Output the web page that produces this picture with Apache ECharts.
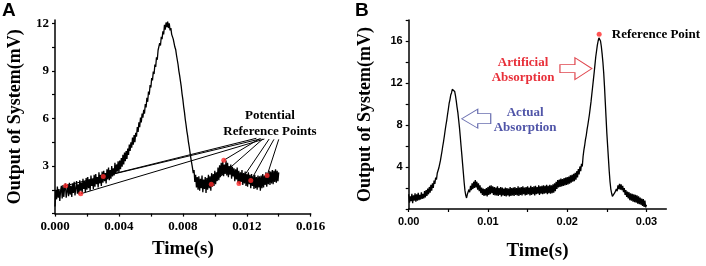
<!DOCTYPE html>
<html>
<head>
<meta charset="utf-8">
<script src="https://cdn.jsdelivr.net/npm/echarts@6/dist/echarts.min.js"></script>
<style>
  html, body { margin: 0; padding: 0; background: #fff; }
  #chart { width: 706px; height: 266px; }
</style>
</head>
<body>
<div id="chart"></div>
<script>
// panel A, one reading every 0.05 ms
var stepA = 0.00005;
var signalA = [
  0.45, 1.5, 0.9, 1.7, 1.0, 1.55, 0.8, 1.45, 1.75, 0.95,
  1.8, 1.05, 1.6, 1.9, 1.0, 1.35, 1.85, 1.1, 1.95, 1.2,
  1.75, 1.05, 1.9, 1.3, 2.0, 1.15, 1.6, 2.05, 1.25, 1.85,
  1.2, 2.1, 1.45, 1.95, 1.3, 2.2, 1.55, 2.05, 1.35, 2.25,
  1.5, 2.3, 1.6, 2.15, 1.45, 2.4, 1.75, 2.2, 1.55, 2.45,
  1.7, 2.5, 1.85, 2.3, 1.65, 2.6, 1.9, 2.45, 1.75, 2.65,
  1.95, 2.7, 2.05, 2.55, 1.9, 2.8, 2.15, 2.9, 2.1, 2.75,
  2.2, 3.0, 2.35, 2.85, 2.4, 3.2, 2.5, 3.1, 2.65, 3.3,
  2.6, 3.35, 2.8, 3.5, 2.95, 3.7, 3.1, 3.85, 3.3, 3.95,
  3.45, 4.1, 3.7, 4.35, 3.95, 4.5, 4.15, 4.8, 4.35, 4.95,
  4.5, 5.1, 4.85, 5.45, 5.15, 5.75, 5.45, 6.05, 5.75, 6.3,
  6.05, 6.55, 6.3, 6.9, 6.7, 7.3, 7.05, 7.7, 7.5, 8.1,
  7.95, 8.55, 8.4, 8.95, 8.8, 9.4, 9.25, 9.85, 9.7, 10.3,
  10.2, 10.75, 10.6, 11.15, 11.0, 11.5, 11.3, 11.9, 11.6, 12.05,
  11.75, 12.1, 11.7, 12.0, 11.55, 11.7, 11.3, 11.4, 11.0, 11.1,
  10.5, 10.35, 10.0, 9.7, 9.4, 9.0, 8.7, 8.35, 8.0, 7.55,
  7.2, 6.75, 6.4, 5.95, 5.6, 5.2, 4.9, 4.5, 4.2, 3.85,
  3.5, 3.2, 2.9, 2.55, 2.75, 2.0, 2.45, 1.65, 2.3, 1.5,
  2.35, 1.45, 2.2, 1.6, 2.4, 1.35, 2.15, 1.55, 2.3, 1.3,
  2.25, 1.5, 2.45, 1.6, 2.35, 1.45, 2.55, 1.7, 2.5, 1.75,
  2.7, 1.85, 2.6, 2.05, 2.9, 2.1, 3.05, 2.3, 3.2, 2.4,
  3.3, 2.35, 3.1, 2.5, 3.35, 2.4, 3.2, 2.3, 3.0, 2.45,
  3.1, 2.2, 2.95, 2.35, 2.85, 2.05, 2.8, 2.15, 2.9, 1.95,
  2.7, 1.85, 2.6, 2.0, 2.75, 1.8, 2.55, 1.9, 2.65, 1.75,
  2.5, 1.7, 2.6, 1.85, 2.45, 1.6, 2.5, 1.75, 2.35, 1.55,
  2.45, 1.6, 2.3, 1.5, 2.4, 1.65, 2.35, 1.45, 2.4, 1.6,
  2.5, 1.65, 2.4, 1.8, 2.6, 1.7, 2.55, 1.85, 2.7, 1.8,
  2.65, 1.9, 2.75, 1.85, 2.7, 2.0, 2.8, 1.95, 2.7, 2.05,
  2.6
];
var refTimeA = [0.00067, 0.00161, 0.00302, 0.00978, 0.01056, 0.01151, 0.01225, 0.01327];
var refValueA = [1.76, 1.25, 2.34, 1.85, 3.36, 1.89, 2.08, 2.40];
// where each leader line leaves the "Reference Points" label
var leaderTimeA = [0.0126, 0.0131, 0.0129, 0.0130, 0.0128, 0.0134, 0.0137, 0.0140];
var leaderValueA = [4.75, 4.70, 4.72, 4.70, 4.72, 4.70, 4.68, 4.68];

// panel B, one reading every 0.1 ms
var stepB = 0.0001;
var signalB = [
  1.4, 0.6, 1.2, 0.75, 1.45, 0.55, 1.3, 0.8, 1.5, 0.7,
  1.4, 0.8, 1.55, 0.85, 1.35, 0.9, 1.6, 0.95, 1.45, 1.0,
  1.7, 1.1, 1.8, 1.25, 1.95, 1.4, 2.1, 1.55, 2.3, 1.75,
  2.45, 2.0, 2.7, 2.4, 3.0, 2.8, 3.4, 3.3, 3.9, 3.85,
  4.6, 5.05, 5.5, 6.0, 6.45, 6.95, 7.5, 8.0, 8.45, 9.0,
  9.5, 10.05, 10.4, 10.85, 11.05, 11.4, 11.5, 11.3, 11.2, 10.8,
  10.3, 9.7, 9.2, 8.5, 7.8, 6.95, 6.05, 5.2, 4.3, 3.4,
  2.5, 1.75, 1.3, 1.05, 1.4, 1.3, 1.85, 1.6, 2.2, 1.8,
  2.45, 1.9, 2.6, 2.0, 2.75, 2.05, 2.6, 1.85, 2.45, 1.7,
  2.25, 1.5, 2.05, 1.35, 1.95, 1.25, 1.9, 1.3, 2.0, 1.2,
  2.1, 1.35, 2.2, 1.4, 2.25, 1.5, 2.15, 1.35, 2.1, 1.3,
  2.05, 1.3, 2.15, 1.25, 2.0, 1.35, 2.1, 1.2, 2.05, 1.3,
  1.95, 1.25, 2.05, 1.2, 2.0, 1.3, 1.95, 1.2, 2.1, 1.25,
  2.0, 1.3, 2.05, 1.25, 2.1, 1.35, 2.0, 1.3, 2.15, 1.25,
  2.05, 1.35, 2.1, 1.3, 2.15, 1.4, 2.05, 1.3, 2.1, 1.35,
  2.15, 1.4, 2.05, 1.3, 2.2, 1.35, 2.1, 1.4, 2.15, 1.3,
  2.2, 1.4, 2.1, 1.45, 2.25, 1.35, 2.15, 1.45, 2.2, 1.4,
  2.25, 1.45, 2.2, 1.5, 2.3, 1.4, 2.2, 1.5, 2.3, 1.45,
  2.25, 1.5, 2.35, 1.55, 2.45, 1.7, 2.6, 1.9, 2.75, 2.05,
  2.8, 2.1, 2.9, 2.15, 2.85, 2.2, 2.95, 2.25, 3.0, 2.3,
  3.05, 2.35, 3.1, 2.4, 3.2, 2.5, 3.25, 2.6, 3.35, 2.65,
  3.45, 2.8, 3.6, 3.0, 3.8, 3.3, 4.05, 3.6, 4.3, 4.05,
  5.0, 5.6, 6.05, 6.6, 7.0, 7.55, 8.0, 8.5, 9.0, 9.6,
  10.2, 10.9, 11.6, 12.3, 13.0, 13.75, 14.5, 15.05, 15.6, 16.0,
  16.3, 16.35, 16.0, 15.5, 14.8, 14.0, 13.0, 11.7, 10.2, 8.7,
  7.2, 6.0, 4.8, 3.6, 2.6, 1.9, 1.5, 1.2, 1.1, 1.35,
  1.55, 1.4, 1.9, 1.7, 2.25, 1.9, 2.4, 1.85, 2.35, 1.8,
  2.2, 1.6, 2.0, 1.35, 1.8, 1.15, 1.65, 1.0, 1.6, 0.85,
  1.5, 0.8, 1.45, 0.7, 1.4, 0.65, 1.35, 0.6, 1.3, 0.5,
  1.2, 0.45, 1.1, 0.4, 1.0, 0.3, 0.95, 0.2, 0.8, 0.15,
  0.4
];
var refTimeB = [0.02403];
var refValueB = [16.65];

// ticks and labels
var xTicksA = [0, 0.002, 0.004, 0.006, 0.008, 0.010, 0.012, 0.014, 0.016];
var xLabelsA = [0, 0.004, 0.008, 0.012, 0.016];
var yTicksA = [0, 1.5, 3, 4.5, 6, 7.5, 9, 10.5, 12];
var yLabelsA = [3, 6, 9, 12];
var xTicksB = [0, 0.005, 0.01, 0.015, 0.02, 0.025, 0.03];
var xLabelsB = [0, 0.01, 0.02, 0.03];
var yTicksB = [0, 2, 4, 6, 8, 10, 12, 14, 16, 18];
var yLabelsB = [4, 8, 12, 16];

var SERIF = '"Times New Roman", "Liberation Serif", serif';
var SANS = 'Arial, "Liberation Sans", sans-serif';

function toPairs(values, step) {
  return values.map(function (v, i) {
    return [+(i * step).toFixed(5), v];
  });
}

function zipPoints(xs, ys) {
  return xs.map(function (x, i) { return [x, ys[i]]; });
}

function textMark(x, y, text, style) {
  return {
    coord: [x, y],
    symbol: 'circle',
    symbolSize: 0,
    label: Object.assign({
      show: true,
      position: 'inside',
      formatter: text,
      fontFamily: SERIF,
      fontWeight: 'bold',
      fontSize: 13,
      color: '#000'
    }, style)
  };
}

function xAxisOf(idx, max, ticks, labels, digits, font, size, gap) {
  return {
    type: 'value',
    gridIndex: idx,
    min: 0,
    max: max,
    name: 'Time(s)',
    nameLocation: 'middle',
    nameGap: gap,
    nameTextStyle: {fontFamily: SERIF, fontWeight: 'bold', fontSize: 19, color: '#000'},
    splitLine: {show: false},
    axisLine: {lineStyle: {color: '#000', width: 1.5}},
    axisTick: {customValues: ticks, length: 3, lineStyle: {color: '#000', width: 1.2}},
    axisLabel: {
      customValues: labels,
      margin: 7,
      fontFamily: font,
      fontWeight: 'bold',
      fontSize: size,
      color: '#000',
      formatter: function (v) { return v.toFixed(digits); }
    }
  };
}

function yAxisOf(idx, max, ticks, labels, font, size, gap) {
  return {
    type: 'value',
    gridIndex: idx,
    min: 0,
    max: max,
    name: 'Output of System(mV)',
    nameLocation: 'middle',
    nameRotate: 90,
    nameGap: gap,
    nameTextStyle: {fontFamily: SERIF, fontWeight: 'bold', fontSize: 18, color: '#000'},
    splitLine: {show: false},
    axisLine: {show: true, lineStyle: {color: '#000', width: 1.5}},
    axisTick: {show: true, customValues: ticks, length: 3, lineStyle: {color: '#000', width: 1.2}},
    axisLabel: {
      customValues: labels,
      margin: 6,
      fontFamily: font,
      fontWeight: 'bold',
      fontSize: size,
      color: '#000'
    }
  };
}

var leaderLines = refTimeA.map(function (t, i) {
  return [{coord: [leaderTimeA[i], leaderValueA[i]]}, {coord: [t, refValueA[i]]}];
});

var arrowRight = 'path://M0,7 L15,7 L15,0 L32,11 L15,22 L15,15 L0,15 Z';
var arrowLeft = 'path://M0,9.5 L16,0 L16,4.5 L29,4.5 L29,14.5 L16,14.5 L16,19 Z';

var chart = echarts.init(document.getElementById('chart'));

chart.setOption({
  animation: false,
  backgroundColor: '#fff',
  title: [
    {text: 'A', left: 2, top: 1, padding: 0, textStyle: {fontFamily: SANS, fontWeight: 'bold', fontSize: 19, color: '#000'}},
    {text: 'B', left: 355, top: 1, padding: 0, textStyle: {fontFamily: SANS, fontWeight: 'bold', fontSize: 19, color: '#000'}}
  ],
  grid: [
    {left: 55, top: 20.1, width: 255.7, height: 193.5},
    {left: 408.7, top: 20, width: 257.6, height: 191.7}
  ],
  xAxis: [
    xAxisOf(0, 0.016, xTicksA, xLabelsA, 3, SERIF, 13, 26),
    xAxisOf(1, 0.0325, xTicksB, xLabelsB, 2, SANS, 11, 33)
  ],
  yAxis: [
    yAxisOf(0, 12.2, yTicksA, yLabelsA, SERIF, 13, 31),
    yAxisOf(1, 18, yTicksB, yLabelsB, SANS, 11, 34)
  ],
  series: [
    {
      type: 'line',
      xAxisIndex: 0,
      yAxisIndex: 0,
      data: toPairs(signalA, stepA),
      showSymbol: false,
      lineStyle: {color: '#000', width: 1.3},
      markLine: {
        silent: true,
        symbol: ['none', 'none'],
        lineStyle: {color: '#000', width: 1, type: 'solid'},
        label: {show: false},
        data: leaderLines
      },
      markPoint: {
        silent: true,
        data: [textMark(0.013453, 5.65, 'Potential\nReference Points', {lineHeight: 16})]
      }
    },
    {
      type: 'scatter',
      xAxisIndex: 0,
      yAxisIndex: 0,
      z: 5,
      data: zipPoints(refTimeA, refValueA),
      symbolSize: 5,
      itemStyle: {color: '#ff2a2a'}
    },
    {
      type: 'line',
      xAxisIndex: 1,
      yAxisIndex: 1,
      data: toPairs(signalB, stepB),
      showSymbol: false,
      lineStyle: {color: '#000', width: 1.3},
      markPoint: {
        silent: true,
        data: [
          textMark(0.01443, 13.19, 'Artificial\nAbsorption', {color: '#e8303a', lineHeight: 15}),
          textMark(0.01469, 8.5, 'Actual\nAbsorption', {color: '#5055a8', lineHeight: 15}),
          textMark(0.02563, 16.65, 'Reference Point', {align: 'left'}),
          {
            coord: [0.0211, 13.37],
            symbol: arrowRight,
            symbolSize: [32, 22],
            symbolKeepAspect: false,
            itemStyle: {color: '#fff', borderColor: '#e0474f', borderWidth: 1},
            label: {show: false}
          },
          {
            coord: [0.00852, 8.6],
            symbol: arrowLeft,
            symbolSize: [29, 19],
            symbolKeepAspect: false,
            itemStyle: {color: '#fff', borderColor: '#6a6fb0', borderWidth: 1},
            label: {show: false}
          }
        ]
      }
    },
    {
      type: 'scatter',
      xAxisIndex: 1,
      yAxisIndex: 1,
      z: 5,
      data: zipPoints(refTimeB, refValueB),
      symbolSize: 5,
      itemStyle: {color: '#ff2a2a'}
    }
  ]
});
</script>
</body>
</html>
